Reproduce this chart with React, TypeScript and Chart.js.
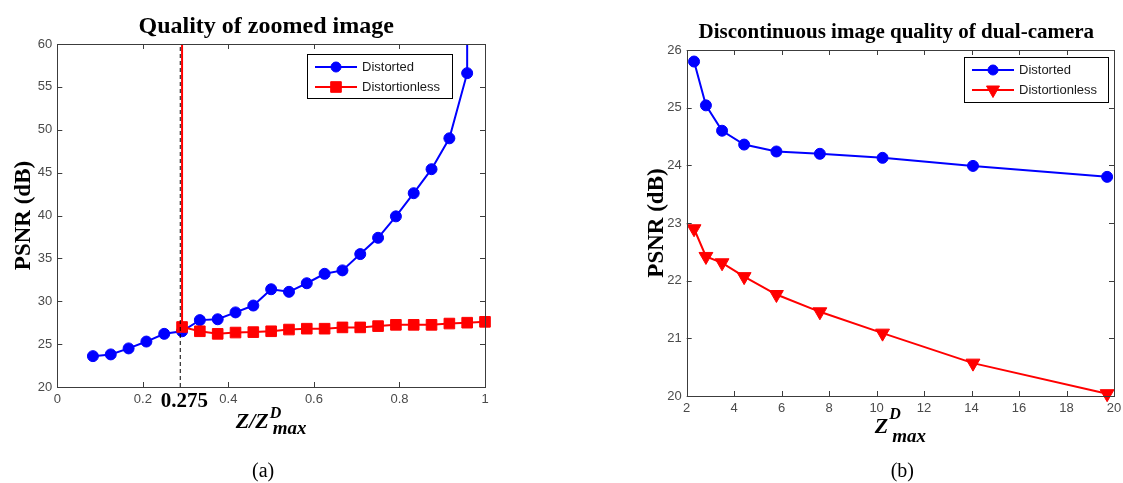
import React, { useEffect, useRef } from "react";
import { Chart, registerables } from "chart.js";

Chart.register(...registerables);

// ---------- (a) Quality of zoomed image ----------
const titleA = "Quality of zoomed image";
const ratioDistortedA = [0.0833, 0.125, 0.1667, 0.2083, 0.25, 0.2917, 0.3333, 0.375, 0.4167, 0.4583, 0.5, 0.5417, 0.5833, 0.625, 0.6667, 0.7083, 0.75, 0.7917, 0.8333, 0.875, 0.9167, 0.9583, 0.9583];
const psnrDistortedA = [23.6, 23.8, 24.5, 25.3, 26.2, 26.5, 27.8, 27.9, 28.7, 29.5, 31.4, 31.1, 32.1, 33.2, 33.6, 35.5, 37.4, 39.9, 42.6, 45.4, 49.0, 56.6, 90];
const ratioDistortionlessA = [0.2917, 0.2917, 0.3333, 0.375, 0.4167, 0.4583, 0.5, 0.5417, 0.5833, 0.625, 0.6667, 0.7083, 0.75, 0.7917, 0.8333, 0.875, 0.9167, 0.9583, 1.0];
const psnrDistortionlessA = [90, 27.0, 26.5, 26.2, 26.35, 26.4, 26.5, 26.7, 26.8, 26.8, 26.95, 26.95, 27.1, 27.25, 27.25, 27.25, 27.4, 27.5, 27.6];
const thresholdRatio = 0.2875;
const thresholdLabel = "0.275";
const xTicksA = { min: 0, max: 1, step: 0.2 };
const yTicksA = { min: 20, max: 60, step: 5 };

// ---------- (b) Discontinuous image quality of dual-camera ----------
const titleB = "Discontinuous image quality of dual-camera";
const zmaxB = [2.31, 2.81, 3.49, 4.42, 5.78, 7.61, 10.25, 14.06, 19.71];
const psnrDistortedB = [25.8, 25.04, 24.6, 24.36, 24.24, 24.2, 24.13, 23.99, 23.8];
const psnrDistortionlessB = [22.9, 22.42, 22.31, 22.07, 21.76, 21.46, 21.09, 20.57, 20.04];
const xTicksB = { min: 2, max: 20, step: 2 };
const yTicksB = { min: 20, max: 26, step: 1 };

const seriesNames = ["Distorted", "Distortionless"];
const yTitle = "PSNR (dB)";

const BLUE = "#0000ff";
const RED = "#ff0000";
const AXIS = "#3c3c3c";
const TICKTXT = "#4a4a4a";
const SANS = '"Liberation Sans", Arial, sans-serif';
const SERIF = '"Liberation Serif", "Times New Roman", serif';

function toPoints(xs: number[], ys: number[]) {
  return xs.map((x, i) => ({ x, y: ys[i] }));
}

function drawMarker(ctx: CanvasRenderingContext2D, kind: string, x: number, y: number, color: string) {
  ctx.save();
  ctx.fillStyle = color;
  ctx.strokeStyle = color;
  ctx.lineWidth = 1;
  ctx.beginPath();
  if (kind === "circle") {
    ctx.arc(x, y, 5, 0, Math.PI * 2);
  } else if (kind === "rect") {
    ctx.rect(x - 5.3, y - 5.3, 10.6, 10.6);
  } else {
    ctx.moveTo(x - 6.5, y - 4);
    ctx.lineTo(x + 6.5, y - 4);
    ctx.lineTo(x, y + 7.5);
    ctx.closePath();
  }
  ctx.fill();
  ctx.stroke();
  ctx.restore();
}

const decorPlugin = {
  id: "decor",
  afterDatasetsDraw(chart: any, _args: any, o: any) {
    const ctx: CanvasRenderingContext2D = chart.ctx;
    const a = chart.chartArea;
    const xs = chart.scales.x;
    const ys = chart.scales.y;
    const cx = (a.left + a.right) / 2;
    ctx.save();

    // axes box
    ctx.strokeStyle = AXIS;
    ctx.lineWidth = 1;
    ctx.strokeRect(Math.round(a.left) + 0.5, Math.round(a.top) + 0.5, Math.round(a.right - a.left), Math.round(a.bottom - a.top));

    // inward ticks on all four sides
    const tl = 5;
    ctx.beginPath();
    xs.ticks.forEach((t: any) => {
      const px = Math.round(xs.getPixelForValue(t.value)) + 0.5;
      ctx.moveTo(px, a.bottom);
      ctx.lineTo(px, a.bottom - tl);
      ctx.moveTo(px, a.top);
      ctx.lineTo(px, a.top + tl);
    });
    ys.ticks.forEach((t: any) => {
      const py = Math.round(ys.getPixelForValue(t.value)) + 0.5;
      ctx.moveTo(a.left, py);
      ctx.lineTo(a.left + tl, py);
      ctx.moveTo(a.right, py);
      ctx.lineTo(a.right - tl, py);
    });
    ctx.stroke();

    // chart title
    ctx.fillStyle = "#000";
    ctx.textAlign = "center";
    ctx.textBaseline = "alphabetic";
    ctx.font = `bold ${o.titleSize}px ${SERIF}`;
    ctx.fillText(o.title, cx + o.titleDx, a.top + o.titleDy);

    // y axis title
    ctx.save();
    ctx.translate(a.left + o.yTitleDx, (a.top + a.bottom) / 2);
    ctx.rotate(-Math.PI / 2);
    ctx.font = `bold 23px ${SERIF}`;
    ctx.textAlign = "center";
    ctx.fillText(yTitle, 0, 0);
    ctx.restore();

    // x axis math title
    const parts = o.xMain as string;
    ctx.textAlign = "left";
    ctx.font = `italic bold 22px ${SERIF}`;
    const wMain = ctx.measureText(parts).width;
    ctx.font = `italic bold 16px ${SERIF}`;
    const wSup = ctx.measureText("D").width;
    ctx.font = `italic bold 19px ${SERIF}`;
    const wSub = ctx.measureText("max").width;
    const total = wMain + Math.max(wSup + 1, wSub + 4);
    const x0 = cx - total / 2 + o.xTitleDx;
    ctx.font = `italic bold 22px ${SERIF}`;
    ctx.fillText(parts, x0, a.bottom + o.mainDy);
    ctx.font = `italic bold 16px ${SERIF}`;
    ctx.fillText("D", x0 + wMain + 1, a.bottom + o.supDy);
    ctx.font = `italic bold 19px ${SERIF}`;
    ctx.fillText("max", x0 + wMain + 4, a.bottom + o.subDy);

    // caption
    ctx.font = `20px ${SERIF}`;
    ctx.textAlign = "center";
    ctx.fillText(o.caption, cx + o.captionDx, o.captionY);

    // threshold label
    if (o.threshold !== undefined) {
      ctx.font = `bold 21px ${SERIF}`;
      ctx.fillText(o.thresholdLabel, xs.getPixelForValue(o.threshold) + 4, a.bottom + 20);
    }

    // legend
    const L = o.legend;
    const lx = a.right - L.right - L.w;
    const ly = a.top + L.top;
    ctx.fillStyle = "#fff";
    ctx.fillRect(lx, ly, L.w, L.h);
    ctx.strokeStyle = "#000";
    ctx.lineWidth = 1;
    ctx.strokeRect(Math.round(lx) + 0.5, Math.round(ly) + 0.5, L.w, L.h);
    L.items.forEach((it: any, i: number) => {
      const ry = ly + 13 + i * 20;
      ctx.strokeStyle = it.color;
      ctx.lineWidth = 2;
      ctx.beginPath();
      ctx.moveTo(lx + 8, ry);
      ctx.lineTo(lx + 50, ry);
      ctx.stroke();
      drawMarker(ctx, it.marker, lx + 29, ry, it.color);
      ctx.fillStyle = "#1a1a1a";
      ctx.font = `13px ${SANS}`;
      ctx.textAlign = "left";
      ctx.textBaseline = "middle";
      ctx.fillText(it.label, lx + 55, ry);
      ctx.textBaseline = "alphabetic";
    });

    ctx.restore();
  },
};

function fmt(v: number) {
  return String(Math.round(v * 100) / 100);
}

function scales(xt: any, yt: any, yWidth: number) {
  return {
    x: {
      type: "linear",
      min: xt.min,
      max: xt.max,
      grid: { display: false, drawTicks: false, tickLength: 0 },
      border: { display: false },
      ticks: { stepSize: xt.step, color: TICKTXT, font: { family: SANS, size: 13 }, padding: 5, callback: (v: any) => fmt(Number(v)), maxRotation: 0 },
      afterFit: (s: any) => { s.height = 30; s.paddingLeft = 0; s.paddingRight = 0; },
    },
    y: {
      type: "linear",
      min: yt.min,
      max: yt.max,
      grid: { display: false, drawTicks: false, tickLength: 0 },
      border: { display: false },
      ticks: { stepSize: yt.step, color: TICKTXT, font: { family: SANS, size: 13 }, padding: 5, callback: (v: any) => fmt(Number(v)) },
      afterFit: (s: any) => { s.width = yWidth; s.paddingTop = 0; s.paddingBottom = 0; },
    },
  };
}

function ChartA() {
  const ref = useRef<HTMLCanvasElement>(null);
  useEffect(() => {
    const clipTop = { left: 20, right: 20, top: 0, bottom: 20 };
    const chart = new Chart(ref.current as HTMLCanvasElement, {
      type: "line",
      data: {
        datasets: [
          {
            label: "threshold",
            data: [{ x: thresholdRatio, y: yTicksA.min }, { x: thresholdRatio, y: yTicksA.max }],
            borderColor: "#000",
            borderWidth: 1,
            borderDash: [4, 3],
            pointRadius: 0,
          },
          {
            label: seriesNames[1],
            data: toPoints(ratioDistortionlessA, psnrDistortionlessA),
            borderColor: RED,
            backgroundColor: RED,
            borderWidth: 2,
            pointStyle: "rect",
            pointRadius: (c: any) => (c.raw && c.raw.y > yTicksA.max ? 0 : 7.5),
            pointBorderWidth: 1,
            clip: clipTop,
          },
          {
            label: seriesNames[0],
            data: toPoints(ratioDistortedA, psnrDistortedA),
            borderColor: BLUE,
            backgroundColor: BLUE,
            borderWidth: 2,
            pointStyle: "circle",
            pointRadius: (c: any) => (c.raw && c.raw.y > yTicksA.max ? 0 : 5.5),
            pointBorderWidth: 1,
            clip: clipTop,
          },
        ] as any,
      },
      options: {
        animation: false,
        responsive: false,
        parsing: false as any,
        layout: { padding: { left: 0, right: 75, top: 44, bottom: 66 } },
        scales: scales(xTicksA, yTicksA, 57.3) as any,
        plugins: {
          legend: { display: false },
          tooltip: { enabled: false },
          decor: {
            title: titleA, titleSize: 24, titleDx: -5, titleDy: -11,
            yTitleDx: -27,
            xMain: "Z/Z", xTitleDx: 0, mainDy: 41, supDy: 31, subDy: 47,
            caption: "(a)", captionDx: -8, captionY: 477,
            threshold: thresholdRatio, thresholdLabel,
            legend: {
              right: 33, top: 10, w: 145, h: 44,
              items: [
                { label: seriesNames[0], color: BLUE, marker: "circle" },
                { label: seriesNames[1], color: RED, marker: "rect" },
              ],
            },
          },
        } as any,
      },
      plugins: [decorPlugin],
    });
    return () => chart.destroy();
  }, []);
  return <canvas ref={ref} width={560} height={483} style={{ position: "absolute", left: 0, top: 0 }} />;
}

function ChartB() {
  const ref = useRef<HTMLCanvasElement>(null);
  useEffect(() => {
    const chart = new Chart(ref.current as HTMLCanvasElement, {
      type: "line",
      data: {
        datasets: [
          {
            label: seriesNames[1],
            data: toPoints(zmaxB, psnrDistortionlessB),
            borderColor: RED,
            backgroundColor: RED,
            borderWidth: 2,
            pointStyle: "triangle",
            rotation: 180,
            pointRadius: 8,
            pointBorderWidth: 1,
            clip: false,
          },
          {
            label: seriesNames[0],
            data: toPoints(zmaxB, psnrDistortedB),
            borderColor: BLUE,
            backgroundColor: BLUE,
            borderWidth: 2,
            pointStyle: "circle",
            pointRadius: 5.5,
            pointBorderWidth: 1,
            clip: false,
          },
        ] as any,
      },
      options: {
        animation: false,
        responsive: false,
        parsing: false as any,
        layout: { padding: { left: 0, right: 7.3, top: 50, bottom: 57 } },
        scales: scales(xTicksB, yTicksB, 126.7) as any,
        plugins: {
          legend: { display: false },
          tooltip: { enabled: false },
          decor: {
            title: titleB, titleSize: 21, titleDx: -4, titleDy: -12,
            yTitleDx: -24,
            xMain: "Z", xTitleDx: 0, mainDy: 37, supDy: 23, subDy: 46,
            caption: "(b)", captionDx: 2, captionY: 477,
            legend: {
              right: 6, top: 7, w: 144, h: 45,
              items: [
                { label: seriesNames[0], color: BLUE, marker: "circle" },
                { label: seriesNames[1], color: RED, marker: "tri" },
              ],
            },
          },
        } as any,
      },
      plugins: [decorPlugin],
    });
    return () => chart.destroy();
  }, []);
  return <canvas ref={ref} width={563} height={483} style={{ position: "absolute", left: 560, top: 0 }} />;
}

export default function App() {
  return (
    <div style={{ position: "absolute", left: 0, top: 0, width: 1123, height: 483, background: "#fff" }}>
      <ChartA />
      <ChartB />
    </div>
  );
}
